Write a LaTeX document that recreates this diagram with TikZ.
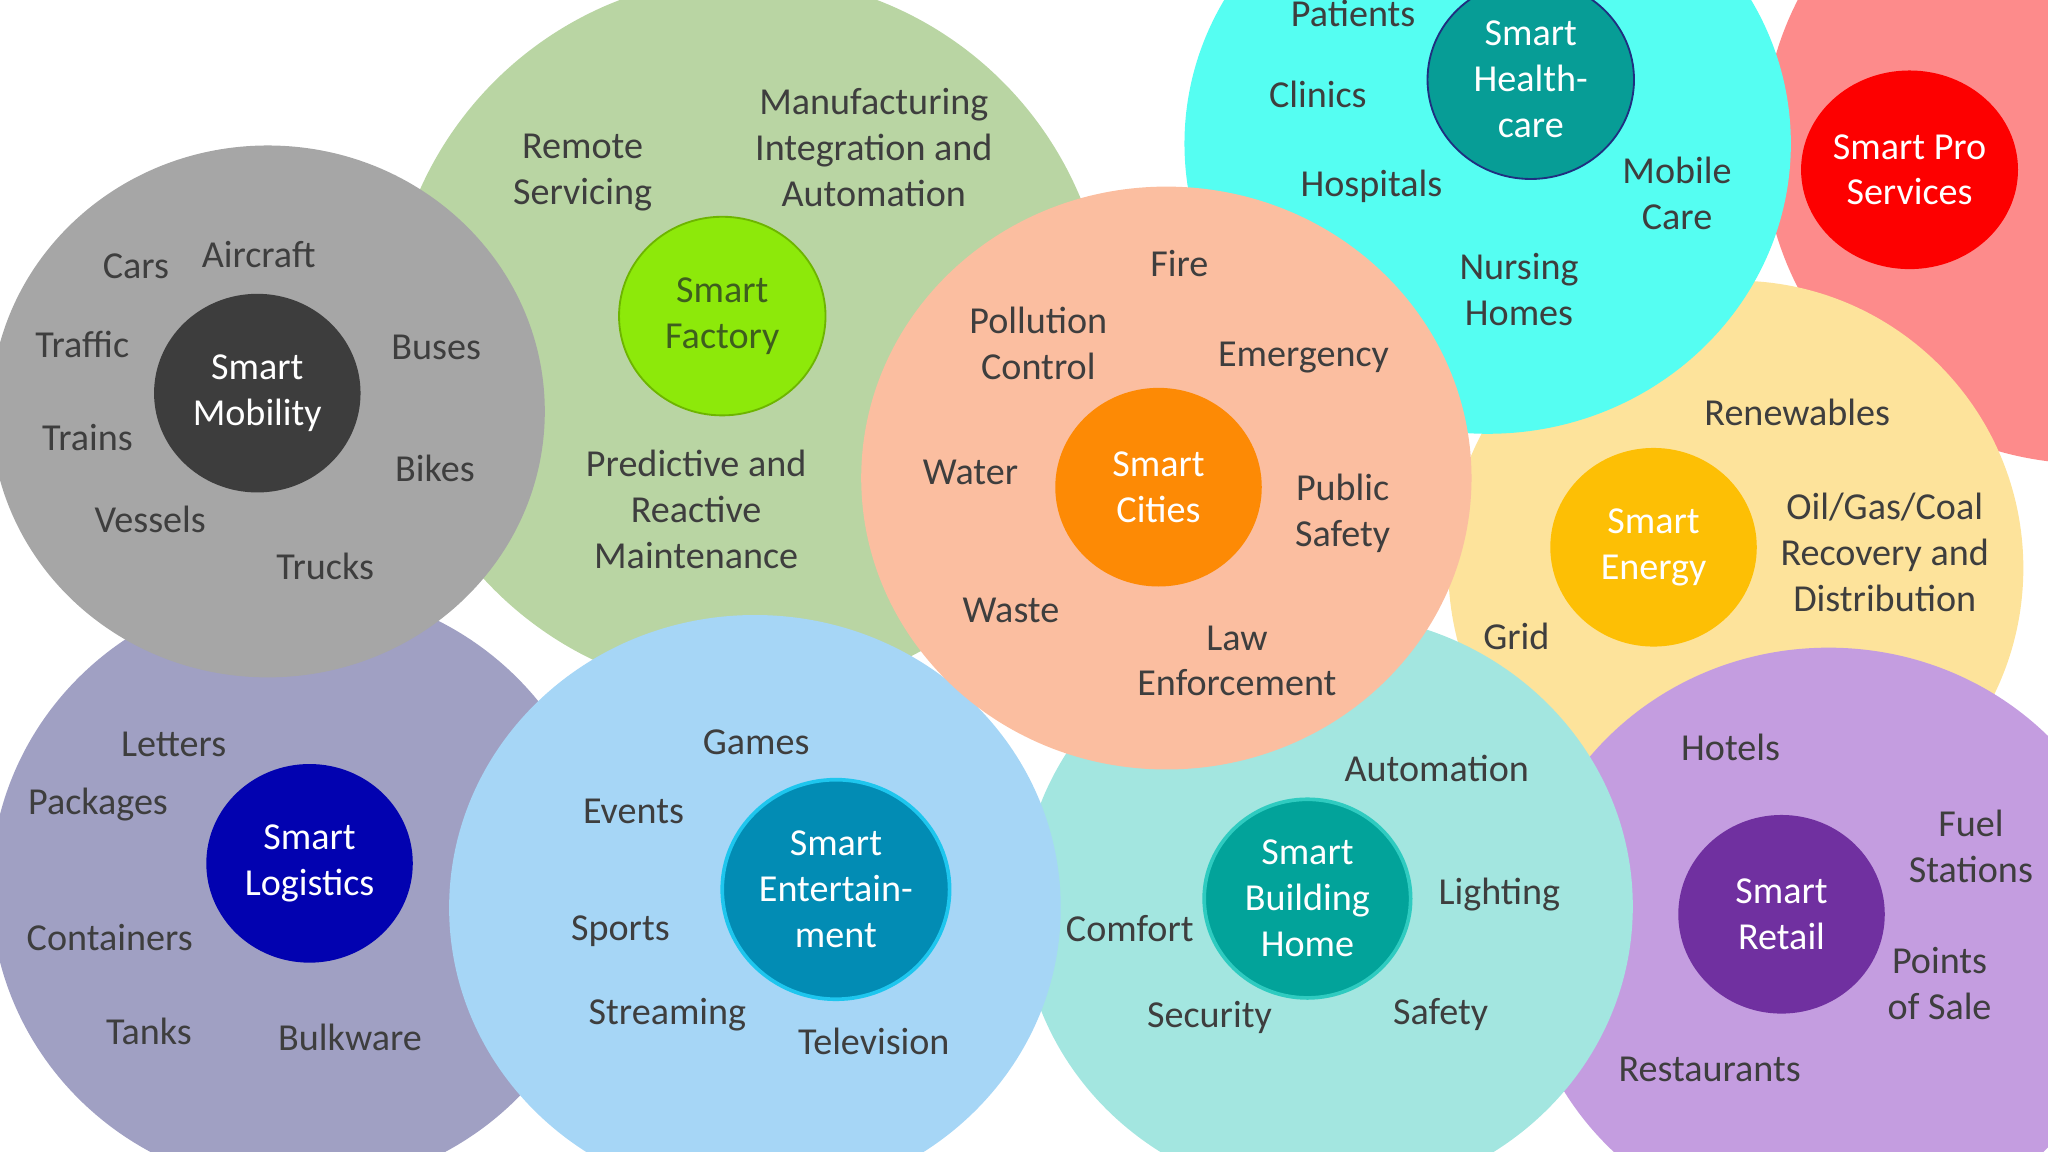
\documentclass[tikz,border=0pt]{standalone}
\usepackage{fontspec}
\setmainfont{Carlito}
\usetikzlibrary{shapes.geometric}
\definecolor{ink}{HTML}{3E3E3E}
\definecolor{mobz}{HTML}{A6A6A6}
\definecolor{mobh}{HTML}{3D3D3D}
\definecolor{facz}{HTML}{B9D5A3}
\definecolor{fach}{HTML}{8DE90A}
\definecolor{facb}{HTML}{6DB500}
\definecolor{fact}{HTML}{3E5E1E}
\definecolor{citz}{HTML}{FBBEA0}
\definecolor{cith}{HTML}{FD8A05}
\definecolor{helz}{HTML}{55FEF2}
\definecolor{helh}{HTML}{079D96}
\definecolor{helb}{HTML}{1F2F80}
\definecolor{proz}{HTML}{FD8B8B}
\definecolor{proh}{HTML}{FD0000}
\definecolor{enez}{HTML}{FDE39B}
\definecolor{eneh}{HTML}{FDBF05}
\definecolor{logz}{HTML}{A0A0C3}
\definecolor{logh}{HTML}{0202B0}
\definecolor{entz}{HTML}{A6D6F6}
\definecolor{enth}{HTML}{028CB4}
\definecolor{entb}{HTML}{1EC6EE}
\definecolor{bldz}{HTML}{A3E6E0}
\definecolor{bldh}{HTML}{02A39A}
\definecolor{bldb}{HTML}{2FCBC0}
\definecolor{retz}{HTML}{C49DE0}
\definecolor{reth}{HTML}{7030A0}
\newcommand{\itmfont}{\fontsize{8.3}{10}\selectfont}
\tikzset{
  zone/.style 2 args={ellipse, draw=none, inner sep=0pt,
                      minimum width=#1, minimum height=#2},
  hub/.style={ellipse, inner sep=0pt, minimum width=1.58cm, minimum height=1.52cm,
              align=center, text=white, font=\itmfont},
  itm/.style={align=center, text=ink, inner sep=0pt, font=\itmfont}
}

\begin{document}
\begin{tikzpicture}[x=0.01cm, y=-0.01cm]
\useasboundingbox (0,0) rectangle (1568,882);
% outer zones, back to front
\node[zone={5cm}{4.9cm}, fill=proz] (pro) at (1600,110) {};
\node[zone={4.4cm}{4.4cm}, fill=enez] (ene) at (1329,435) {};
\node[zone={4.64cm}{4.44cm}, fill=helz] (hel) at (1139,110) {};
\node[zone={4.7cm}{4.5cm}, fill=retz] (ret) at (1400,721) {};
\node[zone={4.68cm}{4.48cm}, fill=bldz] (bld) at (1016,694) {};
\node[zone={5.5cm}{5.5cm}, fill=facz] (fac) at (573,257) {};
\node[zone={4.7cm}{4.6cm}, fill=logz] (log) at (228,680) {};
\node[zone={4.24cm}{4.07cm}, fill=mobz] (mob) at (205,315) {};
\node[zone={4.68cm}{4.48cm}, fill=entz] (ent) at (578,695) {};
\node[zone={4.67cm}{4.46cm}, fill=citz] (cit) at (893,366) {};
% hubs
\node[hub, fill=mobh] (mobhub) at (197,301) {Smart\\Mobility};
\node[hub, fill=fach, draw=facb, text=fact] (fachub) at (553,242) {Smart\\Factory};
\node[hub, fill=cith] (cithub) at (887,373) {Smart\\Cities};
\node[hub, fill=helh, draw=helb] (helhub) at (1172,61) {Smart\\Health-\\care};
\node[hub, fill=proh] (prohub) at (1462,130) {Smart Pro\\Services};
\node[hub, fill=eneh] (enehub) at (1266,419) {Smart\\Energy};
\node[hub, fill=logh] (loghub) at (237,661) {Smart\\Logistics};
\node[hub, minimum width=1.74cm, minimum height=1.68cm, fill=enth, draw=entb,
      line width=0.8pt] (enthub) at (640,681) {Smart\\Entertain-\\ment};
\node[hub, fill=bldh, draw=bldb, line width=0.8pt] (bldhub) at (1001,688) {Smart\\Building\\Home};
\node[hub, fill=reth] (rethub) at (1364,700) {Smart\\Retail};
% mobility
\node[itm] (cars) at (104,204) {Cars};
\node[itm] (aircraft) at (198,195) {Aircraft};
\node[itm] (traffic) at (63,264) {Traffic};
\node[itm] (buses) at (334,266) {Buses};
\node[itm] (trains) at (67,335) {Trains};
\node[itm] (bikes) at (333,359) {Bikes};
\node[itm] (vessels) at (115,398) {Vessels};
\node[itm] (trucks) at (249,434) {Trucks};
% factory
\node[itm] (remote) at (446,132) {Remote\\Servicing};
\node[itm] (manuf) at (669,113) {Manufacturing\\Integration and\\Automation};
\node[itm] (maint) at (533,390) {Predictive and\\Reactive\\Maintenance};
% cities
\node[itm] (fire) at (903,202) {Fire};
\node[itm] (pollut) at (795,263) {Pollution\\Control};
\node[itm] (emerg) at (998,274) {Emergency};
\node[itm] (water) at (743,362) {Water};
\node[itm] (pubsaf) at (1028,393) {Public\\Safety};
\node[itm] (waste) at (774,467) {Waste};
\node[itm] (law) at (947,506) {Law\\Enforcement};
% healthcare
\node[itm] (patients) at (1036,10) {Patients};
\node[itm] (clinics) at (1009,72) {Clinics};
\node[itm] (hosp) at (1050,143) {Hospitals};
\node[itm] (mobcare) at (1284,148) {Mobile\\Care};
\node[itm] (nursing) at (1163,222) {Nursing\\Homes};
% energy
\node[itm] (renew) at (1376,316) {Renewables};
\node[itm] (oil) at (1443,423) {Oil/Gas/Coal\\Recovery and\\Distribution};
\node[itm] (grid) at (1161,487) {Grid};
% logistics
\node[itm] (letters) at (133,570) {Letters};
\node[itm] (packages) at (75,616) {Packages};
\node[itm] (contain) at (84,718) {Containers};
\node[itm] (tanks) at (114,790) {Tanks};
\node[itm] (bulk) at (268,794) {Bulkware};
% entertainment
\node[itm] (games) at (579,568) {Games};
\node[itm] (events) at (485,621) {Events};
\node[itm] (sports) at (475,713) {Sports};
\node[itm] (stream) at (511,777) {Streaming};
\node[itm] (tv) at (669,797) {Television};
% building
\node[itm] (autom) at (1100,588) {Automation};
\node[itm] (light) at (1148,685) {Lighting};
\node[itm] (comfort) at (865,711) {Comfort};
\node[itm] (secur) at (926,779) {Security};
\node[itm] (safety) at (1103,777) {Safety};
% retail
\node[itm] (hotels) at (1325,572) {Hotels};
\node[itm] (fuel) at (1509,648) {Fuel\\Stations};
\node[itm] (pos) at (1485,753) {Points\\of Sale};
\node[itm] (rest) at (1309,819) {Restaurants};
\end{tikzpicture}
\end{document}
